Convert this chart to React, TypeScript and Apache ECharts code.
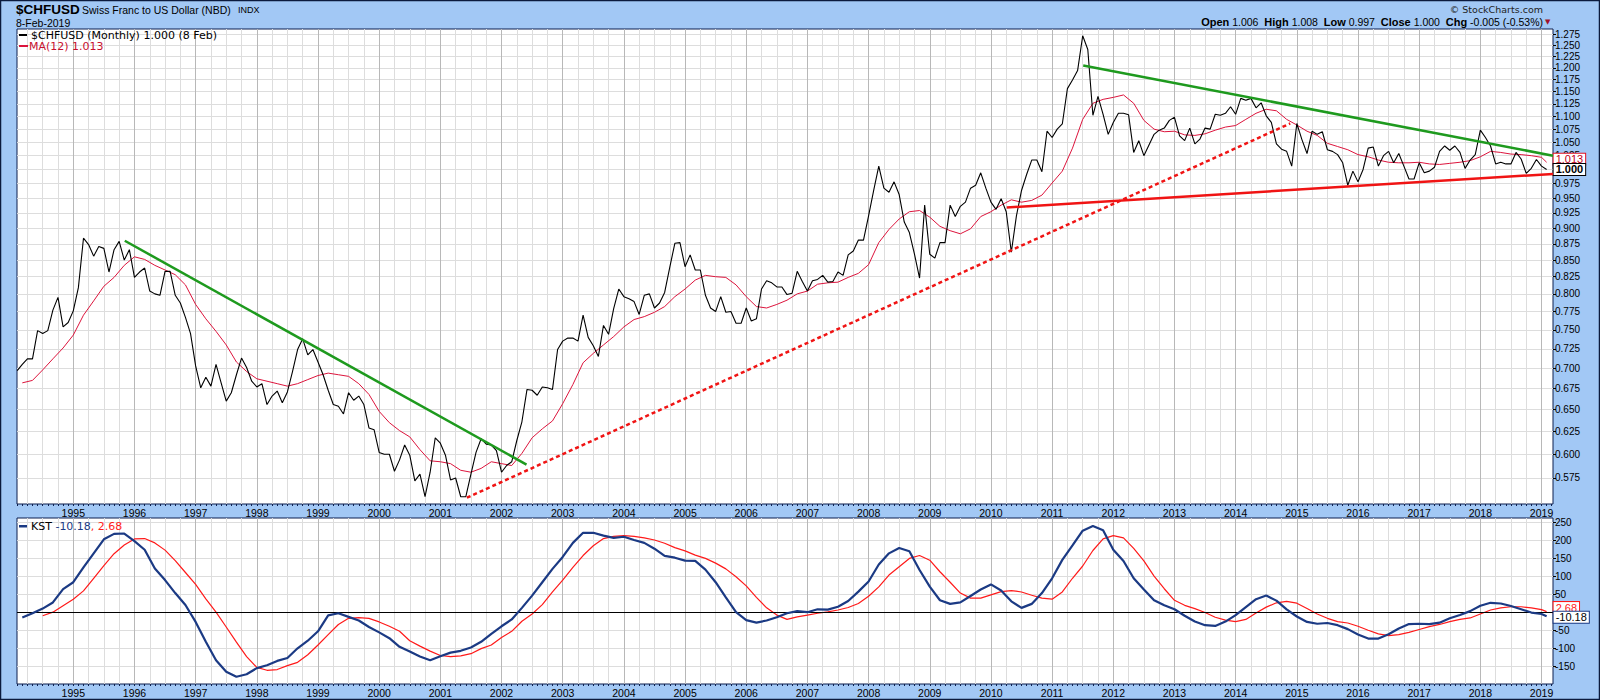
import React, { useEffect, useRef } from 'react';
import * as echarts from 'echarts';

// Month index: 0 = Jan 1995 (monthly closes)
const priceStartMonth = -11; // Feb 1994
const priceValues = [
  0.697, 0.705, 0.712, 0.712, 0.749, 0.745, 0.749, 0.777, 0.795, 0.754, 0.76,
  0.776, 0.809, 0.884, 0.874, 0.856, 0.871, 0.868, 0.832, 0.866, 0.879, 0.85, 0.866,
  0.824, 0.832, 0.838, 0.804, 0.8, 0.798, 0.833, 0.833, 0.798, 0.787, 0.767, 0.745,
  0.703, 0.676, 0.689, 0.678, 0.705, 0.682, 0.66, 0.67, 0.692, 0.713, 0.701, 0.684,
  0.677, 0.681, 0.656, 0.666, 0.672, 0.658, 0.671, 0.696, 0.724, 0.738, 0.717, 0.724,
  0.708, 0.692, 0.673, 0.656, 0.654, 0.645, 0.67, 0.661, 0.666, 0.656, 0.629, 0.627,
  0.602, 0.6, 0.6, 0.582, 0.594, 0.61, 0.599, 0.572, 0.579, 0.556, 0.581, 0.618,
  0.612, 0.599, 0.573, 0.575, 0.556, 0.556, 0.579, 0.602, 0.617, 0.611, 0.61, 0.604,
  0.581, 0.588, 0.592, 0.615, 0.636, 0.674, 0.673, 0.667, 0.677, 0.676, 0.674, 0.724,
  0.735, 0.739, 0.739, 0.735, 0.77, 0.74, 0.729, 0.715, 0.756, 0.744, 0.779, 0.807,
  0.796, 0.793, 0.789, 0.771, 0.798, 0.8, 0.78, 0.787, 0.802, 0.839, 0.876, 0.877,
  0.84, 0.858, 0.835, 0.835, 0.798, 0.78, 0.775, 0.796, 0.774, 0.775, 0.759, 0.759,
  0.78, 0.762, 0.765, 0.807, 0.819, 0.816, 0.81, 0.81, 0.799, 0.801, 0.833, 0.818,
  0.804, 0.819, 0.821, 0.827, 0.817, 0.818, 0.832, 0.827, 0.858, 0.864, 0.881, 0.881,
  0.92, 0.963, 1.006, 0.967, 0.96, 0.978, 0.956, 0.91, 0.893, 0.859, 0.823, 0.938,
  0.859, 0.853, 0.877, 0.877, 0.938, 0.919, 0.936, 0.943, 0.967, 0.972, 0.994, 0.967,
  0.943, 0.931, 0.949, 0.927, 0.862, 0.92, 0.963, 0.991, 1.017, 1.017, 0.996, 1.071,
  1.059, 1.075, 1.085, 1.156, 1.174, 1.194, 1.271, 1.24, 1.102, 1.14, 1.104, 1.065,
  1.088, 1.106, 1.106, 1.103, 1.031, 1.053, 1.025, 1.045, 1.065, 1.073, 1.077, 1.092,
  1.098, 1.062, 1.053, 1.077, 1.047, 1.056, 1.077, 1.075, 1.104, 1.102, 1.106, 1.119,
  1.104, 1.136, 1.132, 1.136, 1.117, 1.127, 1.101, 1.088, 1.047, 1.037, 1.033, 1.006,
  1.086, 1.055, 1.029, 1.071, 1.065, 1.07, 1.036, 1.033, 1.027, 1.012, 0.972, 0.997,
  0.978, 1.0, 1.039, 1.041, 1.006, 1.025, 1.033, 1.012, 1.029, 1.006, 0.983, 0.983,
  1.012, 0.994, 0.997, 1.004, 1.033, 1.043, 1.035, 1.043, 1.031, 1.002, 1.017, 1.027,
  1.073, 1.059, 1.043, 1.01, 1.013, 1.01, 1.01, 1.031, 1.019, 0.993, 1.002, 1.018,
  1.006, 1.0,
];

// MA(12) read every 2 months from Mar 1994, plus the latest value (Feb 2019)
const maStartMonth = -10;
const maValues = [
  0.682, 0.685, 0.698, 0.712, 0.726, 0.743, 0.77, 0.79, 0.811, 0.824, 0.842, 0.855,
  0.851, 0.842, 0.835, 0.828, 0.813, 0.785, 0.765, 0.748, 0.73, 0.708, 0.696, 0.687,
  0.684, 0.681, 0.678, 0.681, 0.686, 0.691, 0.694, 0.692, 0.69, 0.681, 0.668, 0.648,
  0.635, 0.626, 0.619, 0.605, 0.593, 0.592, 0.59, 0.583, 0.581, 0.585, 0.592, 0.59,
  0.588, 0.601, 0.618, 0.628, 0.637, 0.657, 0.68, 0.707, 0.719, 0.73, 0.741, 0.754,
  0.764, 0.768, 0.774, 0.782, 0.796, 0.807, 0.82, 0.827, 0.825, 0.824, 0.813, 0.796,
  0.782, 0.78, 0.785, 0.791, 0.8, 0.804, 0.814, 0.816, 0.817, 0.824, 0.83, 0.843,
  0.877, 0.898, 0.915, 0.927, 0.929, 0.918, 0.903, 0.896, 0.891, 0.899, 0.919, 0.927,
  0.938, 0.947, 0.943, 0.946, 0.955, 0.976, 0.997, 1.039, 1.094, 1.126, 1.134, 1.138,
  1.143, 1.126, 1.092, 1.075, 1.07, 1.071, 1.064, 1.063, 1.066, 1.073, 1.079, 1.082,
  1.094, 1.106, 1.114, 1.111, 1.094, 1.083, 1.071, 1.063, 1.048, 1.042, 1.036, 1.027,
  1.023, 1.017, 1.013, 1.012, 1.012, 1.013, 1.01, 1.009, 1.011, 1.013, 1.016, 1.023,
  1.033, 1.031, 1.028, 1.027, 1.025, 1.022,
];
const maLatest = 1.013;

// KST and its signal line, read every 2 months, plus latest values
const kstStartMonth = -10;
const kstValues = [
  -14, -2, 11, 28, 65, 84, 125, 164, 203, 218, 219, 198, 174, 122, 90, 54, 21, -26,
  -81, -132, -164, -178, -171, -154, -146, -134, -126, -99, -78, -52, -8, -2, -12, -22,
  -40, -55, -71, -95, -108, -122, -132, -121, -111, -106, -97, -81, -59, -38, -19, 13,
  47, 84, 121, 154, 193, 221, 221, 213, 207, 210, 201, 193, 177, 157, 152, 144, 143, 119,
  84, 42, 1, -21, -28, -22, -13, -2, 4, 1, 9, 8, 16, 32, 58, 86, 133, 164, 179, 170,
  118, 72, 34, 24, 28, 46, 64, 78, 61, 31, 13, 24, 54, 95, 146, 186, 227, 240, 228, 174,
  143, 95, 64, 34, 20, 9, -9, -25, -35, -37, -25, -7, 15, 37, 47, 33, 9, -11, -26, -31,
  -29, -35, -46, -61, -72, -72, -60, -44, -32, -31, -32, -28, -16, -7, 4, 19, 27, 25,
  18, 9, 0, -4,
];
const kstLatest = -10.18;
const signalStartMonth = -6;
const signalValues = [
  -9, 1, 19, 37, 60, 95, 130, 163, 187, 204, 205, 193, 173, 144, 111, 78, 38, 1, -40,
  -82, -122, -152, -160, -158, -147, -138, -117, -90, -61, -33, -16, -14, -16, -26, -38,
  -52, -78, -93, -107, -119, -122, -120, -114, -100, -90, -69, -52, -24, -4, 22, 57, 90,
  125, 158, 185, 205, 211, 213, 211, 207, 201, 192, 180, 171, 159, 150, 137, 121, 99,
  74, 42, 13, -7, -19, -12, -7, -2, 2, 7, 14, 25, 45, 71, 104, 127, 150, 158, 145, 113,
  84, 54, 40, 40, 49, 58, 61, 57, 48, 40, 37, 57, 95, 129, 172, 204, 213, 207, 178, 143,
  101, 66, 34, 20, 11, 0, -13, -21, -25, -19, -1, 15, 27, 31, 26, 11, -4, -16, -25, -29,
  -38, -49, -59, -64, -61, -55, -47, -39, -33, -25, -19, -15, -4, 7, 13, 16, 16, 13, 8,
];
const signalLatest = 2.68;
const lastMonth = 289; // Feb 2019

// Trend lines [month index, value]
const greenTrend1 = [[10.1, 0.88], [88.9, 0.589]];
const greenTrend2 = [[198.1, 1.205], [290.25, 1.025]];
const redDottedTrend = [[77.2, 0.555], [238.7, 1.086]];
const redSolidTrend = [[183.1, 0.934], [290.25, 0.992]];

const priceTicks = [
  0.575, 0.6, 0.625, 0.65, 0.675, 0.7, 0.725, 0.75, 0.775, 0.8, 0.825, 0.85, 0.875,
  0.9, 0.925, 0.95, 0.975, 1.0, 1.025, 1.05, 1.075, 1.1, 1.125, 1.15, 1.175, 1.2,
  1.225, 1.25, 1.275,
];
const kstTicks = [-150, -100, -50, 0, 50, 100, 150, 200, 250];
const yearLabels = [
  1995, 1996, 1997, 1998, 1999, 2000, 2001, 2002, 2003, 2004, 2005, 2006, 2007, 2008,
  2009, 2010, 2011, 2012, 2013, 2014, 2015, 2016, 2017, 2018, 2019,
];

const X_MIN = -11.04;
const X_MAX = 290.25;
const yearTicks = yearLabels.map((y) => (y - 1995) * 12);
const quarterTicks: number[] = [];
for (let m = -9; m <= 288; m += 3) quarterTicks.push(m);
const monthTicks: number[] = [];
for (let m = -11; m <= 290; m += 1) monthTicks.push(m);

const FONT = '"Liberation Sans", Arial, sans-serif';
const VFONT = '"DejaVu Sans", Verdana, sans-serif';
const NAVY = '#0d1f4f';
const BLUE_BG = '#a2c8f5';
const GRID_LIGHT = '#dddddd';
const GRID_YEAR = '#b8b8b8';
const MA_COLOR = '#dc143c';
const KST_COLOR = '#1b3a84';
const SIG_COLOR = '#ff1a1a';

function xAxesFor(gridIndex: number) {
  return [
    {
      type: 'value', gridIndex, min: X_MIN, max: X_MAX, position: 'bottom',
      axisLine: { show: false, onZero: false }, axisLabel: { show: false },
      axisTick: { show: false, customValues: quarterTicks },
      splitLine: { show: true, lineStyle: { color: GRID_LIGHT, width: 1 } },
    },
    {
      type: 'value', gridIndex, min: X_MIN, max: X_MAX, position: 'bottom',
      axisLine: { show: false, onZero: false },
      axisTick: { show: false, customValues: yearTicks },
      axisLabel: {
        show: true, customValues: yearTicks,
        formatter: (v: number) => String(1995 + Math.round(v / 12)),
        fontSize: 10.5, fontFamily: FONT, color: '#000', margin: 3,
      },
      splitLine: { show: true, lineStyle: { color: GRID_YEAR, width: 1 } },
    },
    {
      type: 'value', gridIndex, min: X_MIN, max: X_MAX, position: 'bottom',
      axisLine: { show: false, onZero: false }, axisLabel: { show: false }, splitLine: { show: false },
      axisTick: { show: true, customValues: monthTicks, length: 2, lineStyle: { color: NAVY } },
    },
  ];
}

const pricePairs = priceValues.map((v, i) => [priceStartMonth + i, v]);
const maPairs = maValues.map((v, i) => [maStartMonth + i * 2, v]).concat([[lastMonth, maLatest]]);
const kstPairs = kstValues.map((v, i) => [kstStartMonth + i * 2, v]).concat([[lastMonth, kstLatest]]);
const signalPairs = signalValues.map((v, i) => [signalStartMonth + i * 2, v]).concat([[lastMonth, signalLatest]]);

function boxLabel(text: string, border: string, color: string, bold: boolean, dy: number) {
  return {
    show: true,
    formatter: text,
    distance: 7,
    offset: [0, dy],
    fontSize: 11,
    fontFamily: FONT,
    fontWeight: bold ? 'bold' : 'normal',
    color,
    backgroundColor: '#fff',
    borderColor: border,
    borderWidth: 1,
    padding: [0, 2, 0, 2],
  };
}

function trend(data: number[][], color: string, dotted: boolean) {
  return {
    type: 'line', xAxisIndex: 1, yAxisIndex: 0, data, showSymbol: false, silent: true,
    lineStyle: { color, width: 2.5, type: dotted ? [4, 3] : 'solid' },
    z: 6,
  };
}

const option: any = {
  animation: false,
  backgroundColor: BLUE_BG,
  textStyle: { fontFamily: FONT },
  grid: [
    { left: 17, top: 29, width: 1536, height: 475, show: true, backgroundColor: '#fff', borderColor: NAVY, borderWidth: 1 },
    { left: 17, top: 518, width: 1536, height: 166, show: true, backgroundColor: '#fff', borderColor: NAVY, borderWidth: 1 },
  ],
  xAxis: [...xAxesFor(0), ...xAxesFor(1)],
  yAxis: [
    {
      type: 'log', gridIndex: 0, position: 'right', min: 0.5488, max: 1.2865,
      axisLine: { show: false, onZero: false },
      axisTick: { show: true, customValues: priceTicks, length: 3, lineStyle: { color: '#000' } },
      axisLabel: {
        customValues: priceTicks, formatter: (v: number) => v.toFixed(3),
        fontSize: 10, fontFamily: FONT, color: '#000', margin: 2,
      },
      splitLine: { show: true, lineStyle: { color: GRID_LIGHT, width: 1 } },
    },
    {
      type: 'value', gridIndex: 1, position: 'right', min: -198, max: 262,
      axisLine: { show: false, onZero: false },
      axisTick: { show: true, customValues: kstTicks, length: 3, lineStyle: { color: '#000' } },
      axisLabel: {
        customValues: kstTicks, formatter: (v: number) => String(v),
        fontSize: 10, fontFamily: FONT, color: '#000', margin: 2,
      },
      splitLine: { show: true, lineStyle: { color: GRID_LIGHT, width: 1 } },
    },
  ],
  series: [
    trend(redDottedTrend, '#f01414', true),
    trend(redSolidTrend, '#f01414', false),
    trend(greenTrend1, '#1e9a1e', false),
    trend(greenTrend2, '#1e9a1e', false),
    {
      type: 'line', name: 'MA(12)', xAxisIndex: 1, yAxisIndex: 0, data: maPairs, showSymbol: false,
      lineStyle: { color: MA_COLOR, width: 1 }, z: 4,
      endLabel: boxLabel(maLatest.toFixed(3), '#e01020', '#c00020', false, -3),
    },
    {
      type: 'line', name: '$CHFUSD', xAxisIndex: 1, yAxisIndex: 0, data: pricePairs, showSymbol: false,
      lineStyle: { color: '#000', width: 1.1 }, z: 5,
      endLabel: boxLabel(priceValues[priceValues.length - 1].toFixed(3), '#000', '#000', true, 0),
    },
    {
      type: 'line', name: 'Signal', xAxisIndex: 4, yAxisIndex: 1, data: signalPairs, showSymbol: false,
      lineStyle: { color: SIG_COLOR, width: 1.2 }, z: 4,
      endLabel: boxLabel(signalLatest.toFixed(2), SIG_COLOR, SIG_COLOR, false, -4),
    },
    {
      type: 'line', name: 'KST', xAxisIndex: 4, yAxisIndex: 1, data: kstPairs, showSymbol: false,
      lineStyle: { color: KST_COLOR, width: 2.2 }, z: 5,
      endLabel: boxLabel(kstLatest.toFixed(2), KST_COLOR, '#000', false, 1),
      markLine: {
        silent: true, symbol: 'none', label: { show: false },
        lineStyle: { color: '#000', width: 1, type: 'solid' },
        data: [{ yAxis: 0 }],
      },
    },
  ],
  graphic: [
    { type: 'text', x: 16, y: 9, style: { text: '$CHFUSD', fontSize: 13.5, fontWeight: 'bold', fontFamily: FONT, fill: '#000', verticalAlign: 'middle' } },
    { type: 'text', x: 82, y: 9.5, style: { text: 'Swiss Franc to US Dollar (NBD)', fontSize: 10.5, fontFamily: FONT, fill: '#000', verticalAlign: 'middle' } },
    { type: 'text', x: 238, y: 9.5, style: { text: 'INDX', fontSize: 9, fontFamily: FONT, fill: '#000', verticalAlign: 'middle' } },
    { type: 'text', x: 16, y: 22.5, style: { text: '8-Feb-2019', fontSize: 10.5, fontFamily: FONT, fill: '#000', verticalAlign: 'middle' } },
    { type: 'text', x: 1543, y: 9, style: { text: '© StockCharts.com', fontSize: 9.5, fontFamily: VFONT, fill: '#222', align: 'right', verticalAlign: 'middle' } },
    {
      type: 'text', x: 1543, y: 22,
      style: {
        text: '{b|Open} 1.006  {b|High} 1.008  {b|Low} 0.997  {b|Close} 1.000  {b|Chg} -0.005 (-0.53%)',
        fontSize: 10.5, fontFamily: FONT, fill: '#000', align: 'right', verticalAlign: 'middle',
        rich: { b: { fontWeight: 'bold', fontSize: 11, fontFamily: FONT } },
      },
    },
    { type: 'text', x: 1545, y: 22, style: { text: '▼', fontSize: 7, fontFamily: VFONT, fill: '#a0102a', verticalAlign: 'middle' } },
    { type: 'rect', shape: { x: 19, y: 34, width: 8, height: 2 }, style: { fill: '#000' }, z: 10 },
    { type: 'text', x: 31, y: 35, z: 10, style: { text: '$CHFUSD (Monthly) 1.000 (8 Feb)', fontSize: 11, fontFamily: VFONT, fill: '#000', verticalAlign: 'middle' } },
    { type: 'rect', shape: { x: 19, y: 45, width: 9, height: 2 }, style: { fill: MA_COLOR }, z: 10 },
    { type: 'text', x: 29, y: 46.5, z: 10, style: { text: 'MA(12) 1.013', fontSize: 11, fontFamily: VFONT, fill: '#c8102e', verticalAlign: 'middle' } },
    { type: 'rect', shape: { x: 19, y: 525, width: 8, height: 2.5 }, style: { fill: KST_COLOR }, z: 10 },
    {
      type: 'text', x: 31, y: 526, z: 10,
      style: {
        text: 'KST {n|-10.18}{r|, 2.68}', fontSize: 11, fontFamily: VFONT, fill: '#000', verticalAlign: 'middle',
        rich: { n: { fill: KST_COLOR, fontSize: 11, fontFamily: VFONT }, r: { fill: SIG_COLOR, fontSize: 11, fontFamily: VFONT } },
      },
    },
    { type: 'rect', shape: { x: 0.5, y: 0.5, width: 1599, height: 699 }, style: { fill: 'none', stroke: '#0b1a3d', lineWidth: 1.5 }, z: 100, silent: true },
  ],
};

export default function App() {
  const ref = useRef<HTMLDivElement>(null);
  useEffect(() => {
    if (!ref.current) return;
    const chart = echarts.init(ref.current, null, { renderer: 'svg' });
    chart.setOption(option);
    return () => chart.dispose();
  }, []);
  return <div ref={ref} style={{ position: 'fixed', left: 0, top: 0, width: 1600, height: 700 }} />;
}
